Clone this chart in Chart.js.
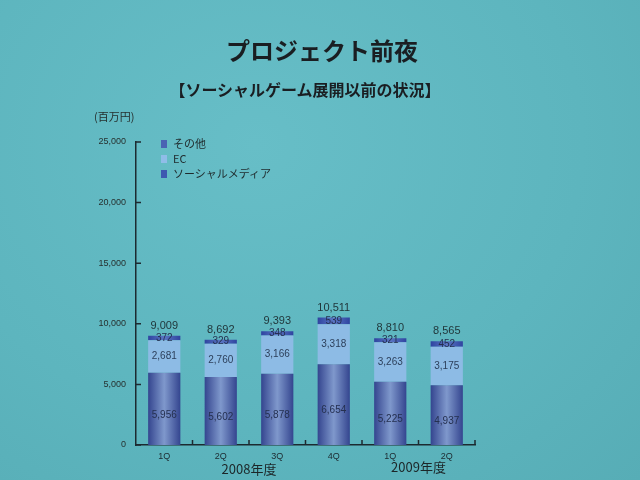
<!DOCTYPE html>
<html>
<head>
<meta charset="utf-8">
<script src="https://cdn.jsdelivr.net/npm/chart.js@4/dist/chart.umd.min.js"></script>
<style>
  html, body { margin:0; padding:0; width:640px; height:480px; overflow:hidden;
    background: radial-gradient(ellipse at 40% 30%, #67bec7 0%, #5db5be 60%, #57adb6 100%);
    font-family: "Noto Sans CJK JP", "Noto Sans", sans-serif; }
  #wrap { position:relative; width:640px; height:480px; }
  canvas { position:absolute; left:0; top:0; }
  .t { position:absolute; color:#1a1e22; white-space:nowrap; }
  #title { left:0; width:644px; top:32px; text-align:center; font-size:24px; font-weight:bold; }
  #sub { left:0; width:610px; top:77px; text-align:center; font-size:16px; font-weight:bold; }
  #unit { left:94px; top:108px; font-size:11px; color:#26302f; }
  #legend { position:absolute; left:161px; top:136px; font-size:11px; color:#1f2a2c; line-height:15px; }
  #legend div { display:flex; align-items:center; }
  #legend span.sw { display:inline-block; width:6px; height:8px; margin-right:6px; }
</style>
</head>
<body>
<div id="wrap">
  <canvas id="c" width="640" height="480"></canvas>
  <div class="t" id="title">プロジェクト前夜</div>
  <div class="t" id="sub">【ソーシャルゲーム展開以前の状況】</div>
  <div class="t" id="unit">(百万円)</div>
  <div id="legend"></div>
</div>
<script>
const categories = ['1Q', '2Q', '3Q', '4Q', '1Q', '2Q'];
const fiscalYears = ['2008年度', '2009年度'];
const seriesNames = ['ソーシャルメディア', 'EC', 'その他'];
const socialMedia = [5956, 5602, 5878, 6654, 5225, 4937];
const ecValues = [2681, 2760, 3166, 3318, 3263, 3175];
const otherValues = [372, 329, 348, 539, 321, 452];
const totals = [9009, 8692, 9393, 10511, 8810, 8565];
const yMax = 25000;
const yStep = 5000;

const BAR_PCT = 0.57;

function barGradient(ctx, dark, light) {
  const chart = ctx.chart;
  const xs = chart.scales && chart.scales.x;
  const a = chart.chartArea;
  if (!xs || !a || ctx.dataIndex === undefined) return dark;
  const cx = xs.getPixelForValue(ctx.dataIndex);
  if (!isFinite(cx)) return dark;
  const catW = (a.right - a.left) / categories.length;
  const w = catW * BAR_PCT;
  const g = chart.ctx.createLinearGradient(cx - w / 2, 0, cx + w / 2, 0);
  g.addColorStop(0, dark);
  g.addColorStop(0.5, light);
  g.addColorStop(1, dark);
  return g;
}

const legendColors = ['#3e58b0', '#8fbde8', '#4a63b3'];
const legendEl = document.getElementById('legend');
[2, 1, 0].forEach(i => {
  const d = document.createElement('div');
  d.innerHTML = '<span class="sw" style="background:' + legendColors[i] + '"></span>' + seriesNames[i];
  legendEl.appendChild(d);
});

const labelPlugin = {
  id: 'labels',
  afterDatasetsDraw(chart) {
    const c = chart.ctx;
    c.save();
    c.textAlign = 'center';
    c.textBaseline = 'middle';
    c.font = '10px "Liberation Sans", Arial, sans-serif';
    chart.data.datasets.forEach((ds, di) => {
      const meta = chart.getDatasetMeta(di);
      meta.data.forEach((bar, i) => {
        c.fillStyle = di === 1 ? '#2c3f5a' : '#253050';
        c.fillText(ds.data[i].toLocaleString('en-US'), bar.x, (bar.y + bar.base) / 2 + (di === 0 ? 6 : 0));
      });
    });
    const top = chart.getDatasetMeta(chart.data.datasets.length - 1);
    c.fillStyle = '#1f3438';
    c.font = '11px "Liberation Sans", Arial, sans-serif';
    top.data.forEach((bar, i) => {
      c.fillText(totals[i].toLocaleString('en-US'), bar.x, bar.y - 10);
    });
    const xs = chart.scales.x;
    c.font = '13px "Noto Sans CJK JP", sans-serif';
    c.fillStyle = '#1c2628';
    const g1 = (xs.getPixelForValue(1) + xs.getPixelForValue(2)) / 2;
    const g2 = (xs.getPixelForValue(4) + xs.getPixelForValue(5)) / 2;
    c.fillText(fiscalYears[0], g1, 469);
    c.fillText(fiscalYears[1], g2, 467);
    const ys = chart.scales.y;
    const a = chart.chartArea;
    c.strokeStyle = '#1c2a30';
    c.lineWidth = 1.5;
    c.beginPath();
    for (let v = 0; v <= yMax; v += yStep) {
      const py = ys.getPixelForValue(v);
      c.moveTo(a.left, py); c.lineTo(a.left + 5, py);
    }
    const catW = (a.right - a.left) / categories.length;
    for (let i = 0; i < categories.length; i++) {
      const px = xs.getPixelForValue(i) + catW / 2;
      c.moveTo(px, a.bottom); c.lineTo(px, a.bottom - 5);
    }
    c.stroke();
    c.restore();
  }
};

new Chart(document.getElementById('c'), {
  type: 'bar',
  data: {
    labels: categories,
    datasets: [
      { label: seriesNames[0], data: socialMedia,
        backgroundColor: ctx => barGradient(ctx, '#34458f', '#7f98cc') },
      { label: seriesNames[1], data: ecValues, backgroundColor: '#8dbbe5' },
      { label: seriesNames[2], data: otherValues,
        backgroundColor: ctx => barGradient(ctx, '#2f44a0', '#5b76c4') }
    ]
  },
  options: {
    responsive: false,
    animation: false,
    devicePixelRatio: 1,
    layout: { padding: { left: 0, right: 165, top: 142, bottom: 0 } },
    datasets: { bar: { categoryPercentage: 1, barPercentage: BAR_PCT, borderWidth: 0 } },
    plugins: { legend: { display: false }, tooltip: { enabled: false } },
    scales: {
      x: {
        stacked: true,
        offset: true,
        afterFit: s => { s.height = 35; },
        grid: { display: false, drawTicks: false },
        border: { display: true, color: '#1c2a30', width: 1.5 },
        ticks: { color: '#1c2a30', padding: 6, font: { size: 9, family: '"Liberation Sans", Arial, sans-serif' } }
      },
      y: {
        stacked: true,
        min: 0, max: yMax,
        afterFit: s => { s.width = 136; },
        grid: { display: false, drawTicks: false },
        border: { display: true, color: '#1c2a30', width: 1.5 },
        ticks: {
          stepSize: yStep, padding: 10, color: '#26302f',
          font: { size: 9, family: '"Liberation Sans", Arial, sans-serif' },
          callback: v => v.toLocaleString('en-US')
        }
      }
    }
  },
  plugins: [labelPlugin]
});
</script>
</body>
</html>
